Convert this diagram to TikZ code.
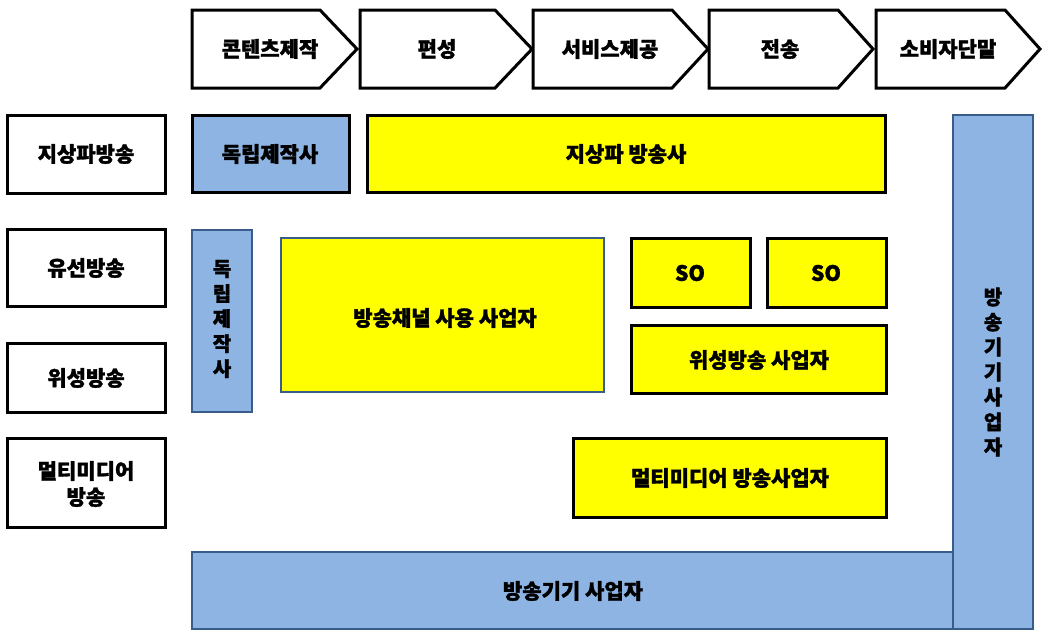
\documentclass[tikz,border=0pt]{standalone}
\usepackage{fontspec}
\setmainfont{Noto Sans CJK KR}[BoldFeatures={FakeBold=1.5}]
\definecolor{bfill}{RGB}{142,180,227}
\definecolor{bline}{RGB}{56,93,138}
\definecolor{yfill}{RGB}{255,255,0}
\begin{document}
\begin{tikzpicture}[x=1pt,y=-1pt,
  lbl/.style={font=\bfseries\fontsize{21}{23}\selectfont, align=center, inner sep=0pt},
  vlbl/.style={font=\bfseries\fontsize{20}{25}\selectfont, align=center, inner sep=0pt},
  chev/.style={draw=black, line width=3pt, fill=white, line join=miter},
  wbox/.style={draw=black, line width=3pt, fill=white},
  ybox/.style={draw=black, line width=3pt, fill=yfill},
  ybbox/.style={draw=bline, line width=2pt, fill=yfill},
  bkbox/.style={draw=black, line width=3pt, fill=bfill},
  bbox/.style={draw=bline, line width=2pt, fill=bfill}]
\useasboundingbox (0,0) rectangle (1043,629);
% chevrons
\foreach \x/\e/\t in {192/320/357, 360/495/532, 533/672/708, 709/838/873, 876/1005/1040}{
  \draw[chev] (\x,10) -- (\e,10) -- (\t,49) -- (\e,88) -- (\x,88) -- cycle;
}
\node[lbl] (c1) at (270,49) {콘텐츠제작};
\node[lbl] (c2) at (437,49) {편성};
\node[lbl] (c3) at (610,49) {서비스제공};
\node[lbl] (c4) at (780,49) {전송};
\node[lbl] (c5) at (948,49) {소비자단말};
% left column
\draw[wbox] (7,115) rectangle (165,193);
\node[lbl] (l1) at (86,154) {지상파방송};
\draw[wbox] (7,229) rectangle (165,306);
\node[lbl] (l2) at (86,268) {유선방송};
\draw[wbox] (7,343) rectangle (165,412);
\node[lbl] (l3) at (86,378) {위성방송};
\draw[wbox] (7,438) rectangle (165,527);
\node[lbl] (l4) at (86,484) {멀티미디어\\[3pt]방송};
% blue boxes
\draw[bkbox] (192,115) rectangle (349,192);
\node[lbl] (ip1) at (270,154) {독립제작사};
\draw[bbox] (192,230) rectangle (252,412);
\node[vlbl] (ip2) at (222,319) {독\\립\\제\\작\\사};
\draw[bbox] (192,552) rectangle (953,629);
\node[lbl] (eq1) at (573,591) {방송기기 사업자};
\draw[bbox] (953,115) rectangle (1033,629);
\node[vlbl] (eq2) at (993,372) {방\\송\\기\\기\\사\\업\\자};
% yellow boxes
\draw[ybox] (367,115) rectangle (885,192);
\node[lbl] (tb) at (626,154) {지상파 방송사};
\draw[ybbox] (281,238) rectangle (604,392);
\node[lbl] (pp) at (445,318) {방송채널 사용 사업자};
\draw[ybox] (631,238) rectangle (750,307);
\node[lbl] (so1) at (690,273) {SO};
\draw[ybox] (767,238) rectangle (886,307);
\node[lbl] (so2) at (826,273) {SO};
\draw[ybox] (631,325) rectangle (886,393);
\node[lbl] (sat) at (759,360) {위성방송 사업자};
\draw[ybox] (573,438) rectangle (886,517);
\node[lbl] (mm) at (730,478) {멀티미디어 방송사업자};
\end{tikzpicture}
\end{document}
